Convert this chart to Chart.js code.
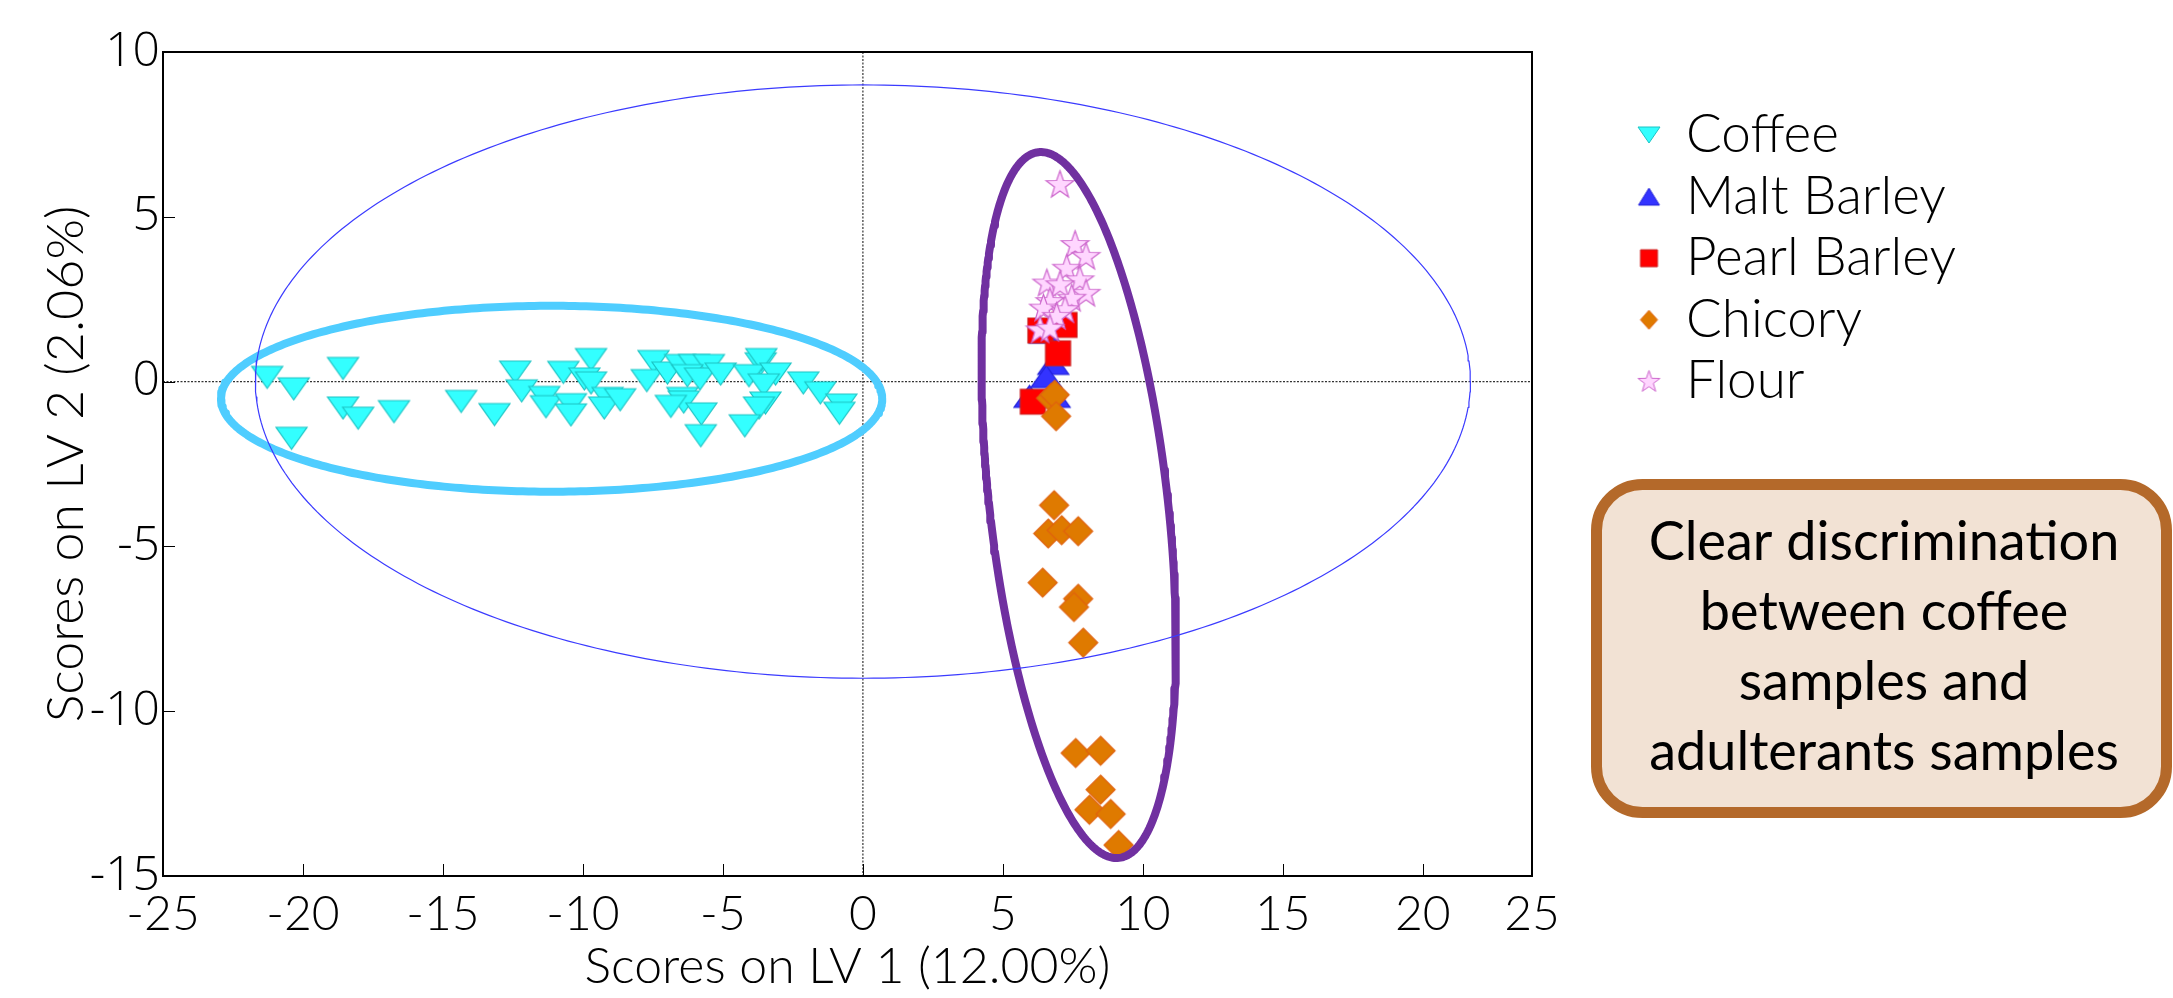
<!DOCTYPE html>
<html>
<head>
<meta charset="utf-8">
<title>PLS-DA scores: coffee and adulterants</title>
<script src="https://cdn.jsdelivr.net/npm/chart.js@4.4.1/dist/chart.umd.min.js"></script>
<style>
  html, body { margin: 0; padding: 0; background: #ffffff; }
  #wrap { position: relative; width: 2173px; height: 998px; }
</style>
</head>
<body>
<div id="wrap"><canvas id="scores" width="2173" height="998"></canvas></div>
<script>
// Scores on LV 1 / LV 2 for each sample class: [LV1, LV2]
const coffeeScores = [
  [-21.28, 0.13], [-20.33, -0.22], [-18.57, 0.40], [-20.41, -1.72], [-18.57, -0.80],
  [-18.03, -1.11], [-16.75, -0.91], [-14.35, -0.60], [-13.16, -1.00], [-12.42, 0.29],
  [-12.19, -0.28], [-11.38, -0.48], [-11.32, -0.76], [-10.70, 0.28], [-9.71, 0.67],
  [-9.95, 0.08], [-9.71, -0.04], [-10.43, -0.70], [-10.43, -1.01], [-9.12, -0.51],
  [-9.24, -0.80], [-8.67, -0.55], [-7.48, 0.61], [-7.72, 0.03], [-6.98, 0.26],
  [-6.53, 0.49], [-6.03, 0.49], [-5.50, 0.49], [-6.27, 0.18], [-5.82, 0.08],
  [-5.08, 0.23], [-6.45, -0.51], [-6.40, -0.62], [-6.86, -0.75], [-5.77, -0.98],
  [-5.79, -1.64], [-3.65, 0.54], [-3.63, 0.67], [-4.07, 0.18], [-3.12, 0.23],
  [-3.54, -0.10], [-3.48, -0.65], [-3.71, -0.80], [-4.22, -1.34], [-2.13, -0.04],
  [-1.52, -0.34], [-0.77, -0.71], [-0.84, -0.96]
];
const maltBarleyScores = [
  [6.50, 1.50], [6.80, 0.55], [6.55, 0.15], [5.95, -0.45], [6.85, -0.45]
];
const pearlBarleyScores = [
  [6.34, 1.55], [7.20, 1.72], [6.97, 0.86], [6.07, -0.61]
];
const chicoryScores = [
  [6.83, -3.75], [6.62, -4.61], [7.10, -4.51], [7.69, -4.54], [6.42, -6.10],
  [7.69, -6.59], [7.54, -6.84], [7.87, -7.92], [7.60, -11.27], [8.49, -11.20],
  [8.49, -12.38], [8.09, -12.99], [8.85, -13.12], [9.13, -14.06],
  [6.72, -0.50], [6.85, -0.40], [6.90, -1.05]
];
const flourScores = [
  [7.04, 5.98], [7.58, 4.16], [7.97, 3.80], [7.28, 3.44], [7.75, 3.09],
  [6.57, 2.99], [7.04, 2.94], [7.97, 2.68], [7.46, 2.53], [6.68, 2.43],
  [6.45, 2.23], [7.22, 2.18], [6.92, 1.98], [6.33, 1.57], [6.68, 1.62]
];

const seriesNames = ['Coffee', 'Malt Barley', 'Pearl Barley', 'Chicory', 'Flour'];

// Axis ticks
const xTickValues = [-25, -20, -15, -10, -5, 0, 5, 10, 15, 20, 25];
const xTickLabels = ['-25', '-20', '-15', '-10', '-5', '0', '5', '10', '15', '20', '25'];
const yTickValues = [-15, -10, -5, 0, 5, 10];
const xRange = [-25, 23.9];
const yRange = [-15, 10];

// Ellipses: centre plus two conjugate half-axes in score units
const confidenceEllipse = { cx: 0, cy: 0, u: [21.7, 0], v: [0, 9.0] };
const coffeeGroupRing = { cx: -11.12, cy: -0.52, u: [11.81, 0], v: [0, 2.82] };
const adulterantGroupRing = { cx: 7.71, cy: -3.745, u: [-1.44, 10.705], v: [3.16, 0.306] };

const noteLines = ['Clear discrimination', 'between coffee', 'samples and', 'adulterants samples'];

// ---------------------------------------------------------------------------

const toPoints = arr => arr.map(([x, y]) => ({ x, y }));

function ringPoints(e, n) {
  const pts = [];
  for (let k = 0; k <= n; k++) {
    const t = 2 * Math.PI * k / n;
    pts.push({
      x: e.cx + e.u[0] * Math.cos(t) + e.v[0] * Math.sin(t),
      y: e.cy + e.u[1] * Math.cos(t) + e.v[1] * Math.sin(t)
    });
  }
  return pts;
}

// Small canvases used as point styles
function marker(shape, w, h, fill, stroke, lw) {
  const pad = 2;
  const c = document.createElement('canvas');
  c.width = Math.ceil(w + 2 * pad);
  c.height = Math.ceil(h + 2 * pad);
  const g = c.getContext('2d');
  const cx = c.width / 2, cy = c.height / 2;
  g.beginPath();
  if (shape === 'triangleDown') {
    g.moveTo(cx - w / 2, cy - h / 2);
    g.lineTo(cx + w / 2, cy - h / 2);
    g.lineTo(cx, cy + h / 2);
    g.closePath();
  } else if (shape === 'triangleUp') {
    g.moveTo(cx - w / 2, cy + h / 2);
    g.lineTo(cx + w / 2, cy + h / 2);
    g.lineTo(cx, cy - h / 2);
    g.closePath();
  } else if (shape === 'square') {
    g.rect(cx - w / 2, cy - h / 2, w, h);
  } else if (shape === 'diamond') {
    g.moveTo(cx, cy - h / 2);
    g.lineTo(cx + w / 2, cy);
    g.lineTo(cx, cy + h / 2);
    g.lineTo(cx - w / 2, cy);
    g.closePath();
  } else if (shape === 'star') {
    const R = h / 2, r = R * 0.4;
    for (let k = 0; k < 10; k++) {
      const a = -Math.PI / 2 + k * Math.PI / 5;
      const rad = k % 2 ? r : R;
      const px = cx + rad * Math.cos(a), py = cy + rad * Math.sin(a) + R * 0.05;
      if (k === 0) g.moveTo(px, py); else g.lineTo(px, py);
    }
    g.closePath();
  }
  g.fillStyle = fill;
  g.fill();
  g.lineWidth = lw;
  g.strokeStyle = stroke;
  g.lineJoin = 'miter';
  g.stroke();
  return c;
}

const palette = {
  coffee: { fill: '#33ffff', stroke: '#1cc4c4' },
  malt: { fill: '#3333ff', stroke: '#2020d8' },
  pearl: { fill: '#ff0000', stroke: '#cc2020' },
  chicory: { fill: '#df7a00', stroke: '#e0620e' },
  flour: { fill: '#ffd6ff', stroke: '#cc66cc' }
};

const plotMarkers = [
  marker('triangleDown', 31, 22, palette.coffee.fill, palette.coffee.stroke, 1.2),
  marker('triangleUp', 31, 22, palette.malt.fill, palette.malt.stroke, 1.2),
  marker('square', 25, 25, palette.pearl.fill, palette.pearl.stroke, 1.2),
  marker('diamond', 29, 29, palette.chicory.fill, palette.chicory.stroke, 1.2),
  marker('star', 29, 29, palette.flour.fill, palette.flour.stroke, 1.2)
];
const legendMarkers = [
  marker('triangleDown', 22, 16, palette.coffee.fill, palette.coffee.stroke, 1),
  marker('triangleUp', 21, 17, palette.malt.fill, palette.malt.stroke, 1),
  marker('square', 17, 17, palette.pearl.fill, palette.pearl.stroke, 1),
  marker('diamond', 17, 19, palette.chicory.fill, palette.chicory.stroke, 1),
  marker('star', 23, 23, palette.flour.fill, palette.flour.stroke, 1)
];

const seriesData = [coffeeScores, maltBarleyScores, pearlBarleyScores, chicoryScores, flourScores];

const scoreSets = seriesNames.map((name, i) => ({
  label: name,
  data: toPoints(seriesData[i]),
  pointStyle: plotMarkers[i],
  pointRadius: 12,
  pointHoverRadius: 12,
  showLine: false,
  order: 5 - i
}));

const ringSets = [
  { label: 'confidence', ring: confidenceEllipse, color: '#3b3bff', width: 1.2 },
  { label: 'coffee group', ring: coffeeGroupRing, color: '#4fcdff', width: 8 },
  { label: 'adulterant group', ring: adulterantGroupRing, color: '#7030a0', width: 8 }
].map(r => ({
  label: r.label,
  data: ringPoints(r.ring, 360),
  showLine: true,
  borderColor: r.color,
  borderWidth: r.width,
  borderJoinStyle: 'round',
  borderCapStyle: 'round',
  pointRadius: 0,
  pointHoverRadius: 0,
  fill: false,
  tension: 0,
  order: 0
}));

// Reference lines, frame, inward ticks, legend and note box
const decorations = {
  id: 'decorations',
  beforeDatasetsDraw(chart) {
    const { ctx, chartArea: a, scales } = chart;
    const x0 = scales.x.getPixelForValue(0);
    const y0 = scales.y.getPixelForValue(0);
    ctx.save();
    ctx.strokeStyle = '#333333';
    ctx.lineWidth = 1.2;
    ctx.setLineDash([2, 1.5]);
    ctx.beginPath();
    ctx.moveTo(x0, a.top); ctx.lineTo(x0, a.bottom);
    ctx.moveTo(a.left, y0); ctx.lineTo(a.right, y0);
    ctx.stroke();
    ctx.restore();
  },
  afterDatasetsDraw(chart) {
    const { ctx, chartArea: a, scales } = chart;
    ctx.save();
    ctx.strokeStyle = '#000000';
    ctx.lineWidth = 1;
    ctx.beginPath();
    xTickValues.forEach(v => {
      if (v <= xRange[0] || v >= xRange[1]) return;
      const px = Math.round(scales.x.getPixelForValue(v)) + 0.5;
      ctx.moveTo(px, a.bottom); ctx.lineTo(px, a.bottom - 12);
    });
    yTickValues.forEach(v => {
      if (v <= yRange[0] || v >= yRange[1]) return;
      const py = Math.round(scales.y.getPixelForValue(v)) + 0.5;
      ctx.moveTo(a.left, py); ctx.lineTo(a.left + 12, py);
    });
    ctx.stroke();
    ctx.lineWidth = 2;
    ctx.strokeRect(a.left, a.top, a.right - a.left, a.bottom - a.top);
    ctx.restore();
  },
  afterDraw(chart) {
    const { ctx } = chart;
    ctx.save();
    // legend
    const legendMarkerX = 1649;
    const legendTextX = 1686;
    const firstBaseline = 152;
    const rowStep = 61.6;
    ctx.font = '300 53px Lato';
    ctx.fillStyle = '#000000';
    ctx.textAlign = 'left';
    ctx.textBaseline = 'alphabetic';
    seriesNames.forEach((name, i) => {
      const base = firstBaseline + i * rowStep;
      const m = legendMarkers[i];
      const my = base - 17;
      ctx.drawImage(m, legendMarkerX - m.width / 2, my - m.height / 2);
      ctx.fillText(name, legendTextX, base);
    });
    // note box
    const bx = 1596.5, by = 484.5, bw = 570, bh = 328, br = 46;
    ctx.beginPath();
    ctx.roundRect(bx, by, bw, bh, br);
    ctx.fillStyle = '#f2e2d4';
    ctx.fill();
    ctx.lineWidth = 11;
    ctx.strokeStyle = '#b4692a';
    ctx.stroke();
    ctx.font = '400 54px Lato';
    ctx.fillStyle = '#000000';
    ctx.textAlign = 'center';
    noteLines.forEach((line, i) => {
      ctx.fillText(line, 1884, 560 + i * 70);
    });
    ctx.restore();
  }
};

function build() {
  const ctx = document.getElementById('scores').getContext('2d');
  new Chart(ctx, {
    type: 'scatter',
    data: { datasets: [...scoreSets, ...ringSets] },
    options: {
      responsive: false,
      animation: false,
      events: [],
      layout: { padding: { top: 52, right: 641, left: 0, bottom: 0 } },
      plugins: { legend: { display: false }, tooltip: { enabled: false } },
      scales: {
        x: {
          type: 'linear',
          min: xRange[0],
          max: xRange[1],
          afterBuildTicks: s => { s.ticks = xTickValues.map(v => ({ value: Math.min(v, xRange[1]) })); },
          afterFit: s => { s.height = 122; },
          grid: { display: false, drawTicks: false },
          border: { display: false },
          ticks: {
            autoSkip: false,
            maxRotation: 0,
            padding: 10,
            color: '#000000',
            font: { family: 'Lato', size: 48, weight: '300' },
            callback: (value, index) => xTickLabels[index]
          },
          title: {
            display: true,
            text: 'Scores on LV 1 (12.00%)',
            color: '#000000',
            font: { family: 'Lato', size: 50, weight: '300' },
            padding: { top: 0, bottom: 1 }
          }
        },
        y: {
          type: 'linear',
          min: yRange[0],
          max: yRange[1],
          afterBuildTicks: s => { s.ticks = yTickValues.map(v => ({ value: v })); },
          afterFit: s => { s.width = 163; },
          grid: { display: false, drawTicks: false },
          border: { display: false },
          ticks: {
            autoSkip: false,
            padding: 3,
            color: '#000000',
            font: { family: 'Open Sans', size: 48, weight: '300' },
            callback: v => String(v)
          },
          title: {
            display: true,
            text: 'Scores on LV 2 (2.06%)',
            color: '#000000',
            font: { family: 'Lato', size: 52, weight: '300' },
            padding: { top: 35, bottom: 0 }
          }
        }
      }
    },
    plugins: [decorations]
  });
}

Promise.all([
  document.fonts.load('300 53px Lato'),
  document.fonts.load('400 54px Lato'),
  document.fonts.load('300 48px "Open Sans"')
]).then(build, build);
</script>
</body>
</html>
